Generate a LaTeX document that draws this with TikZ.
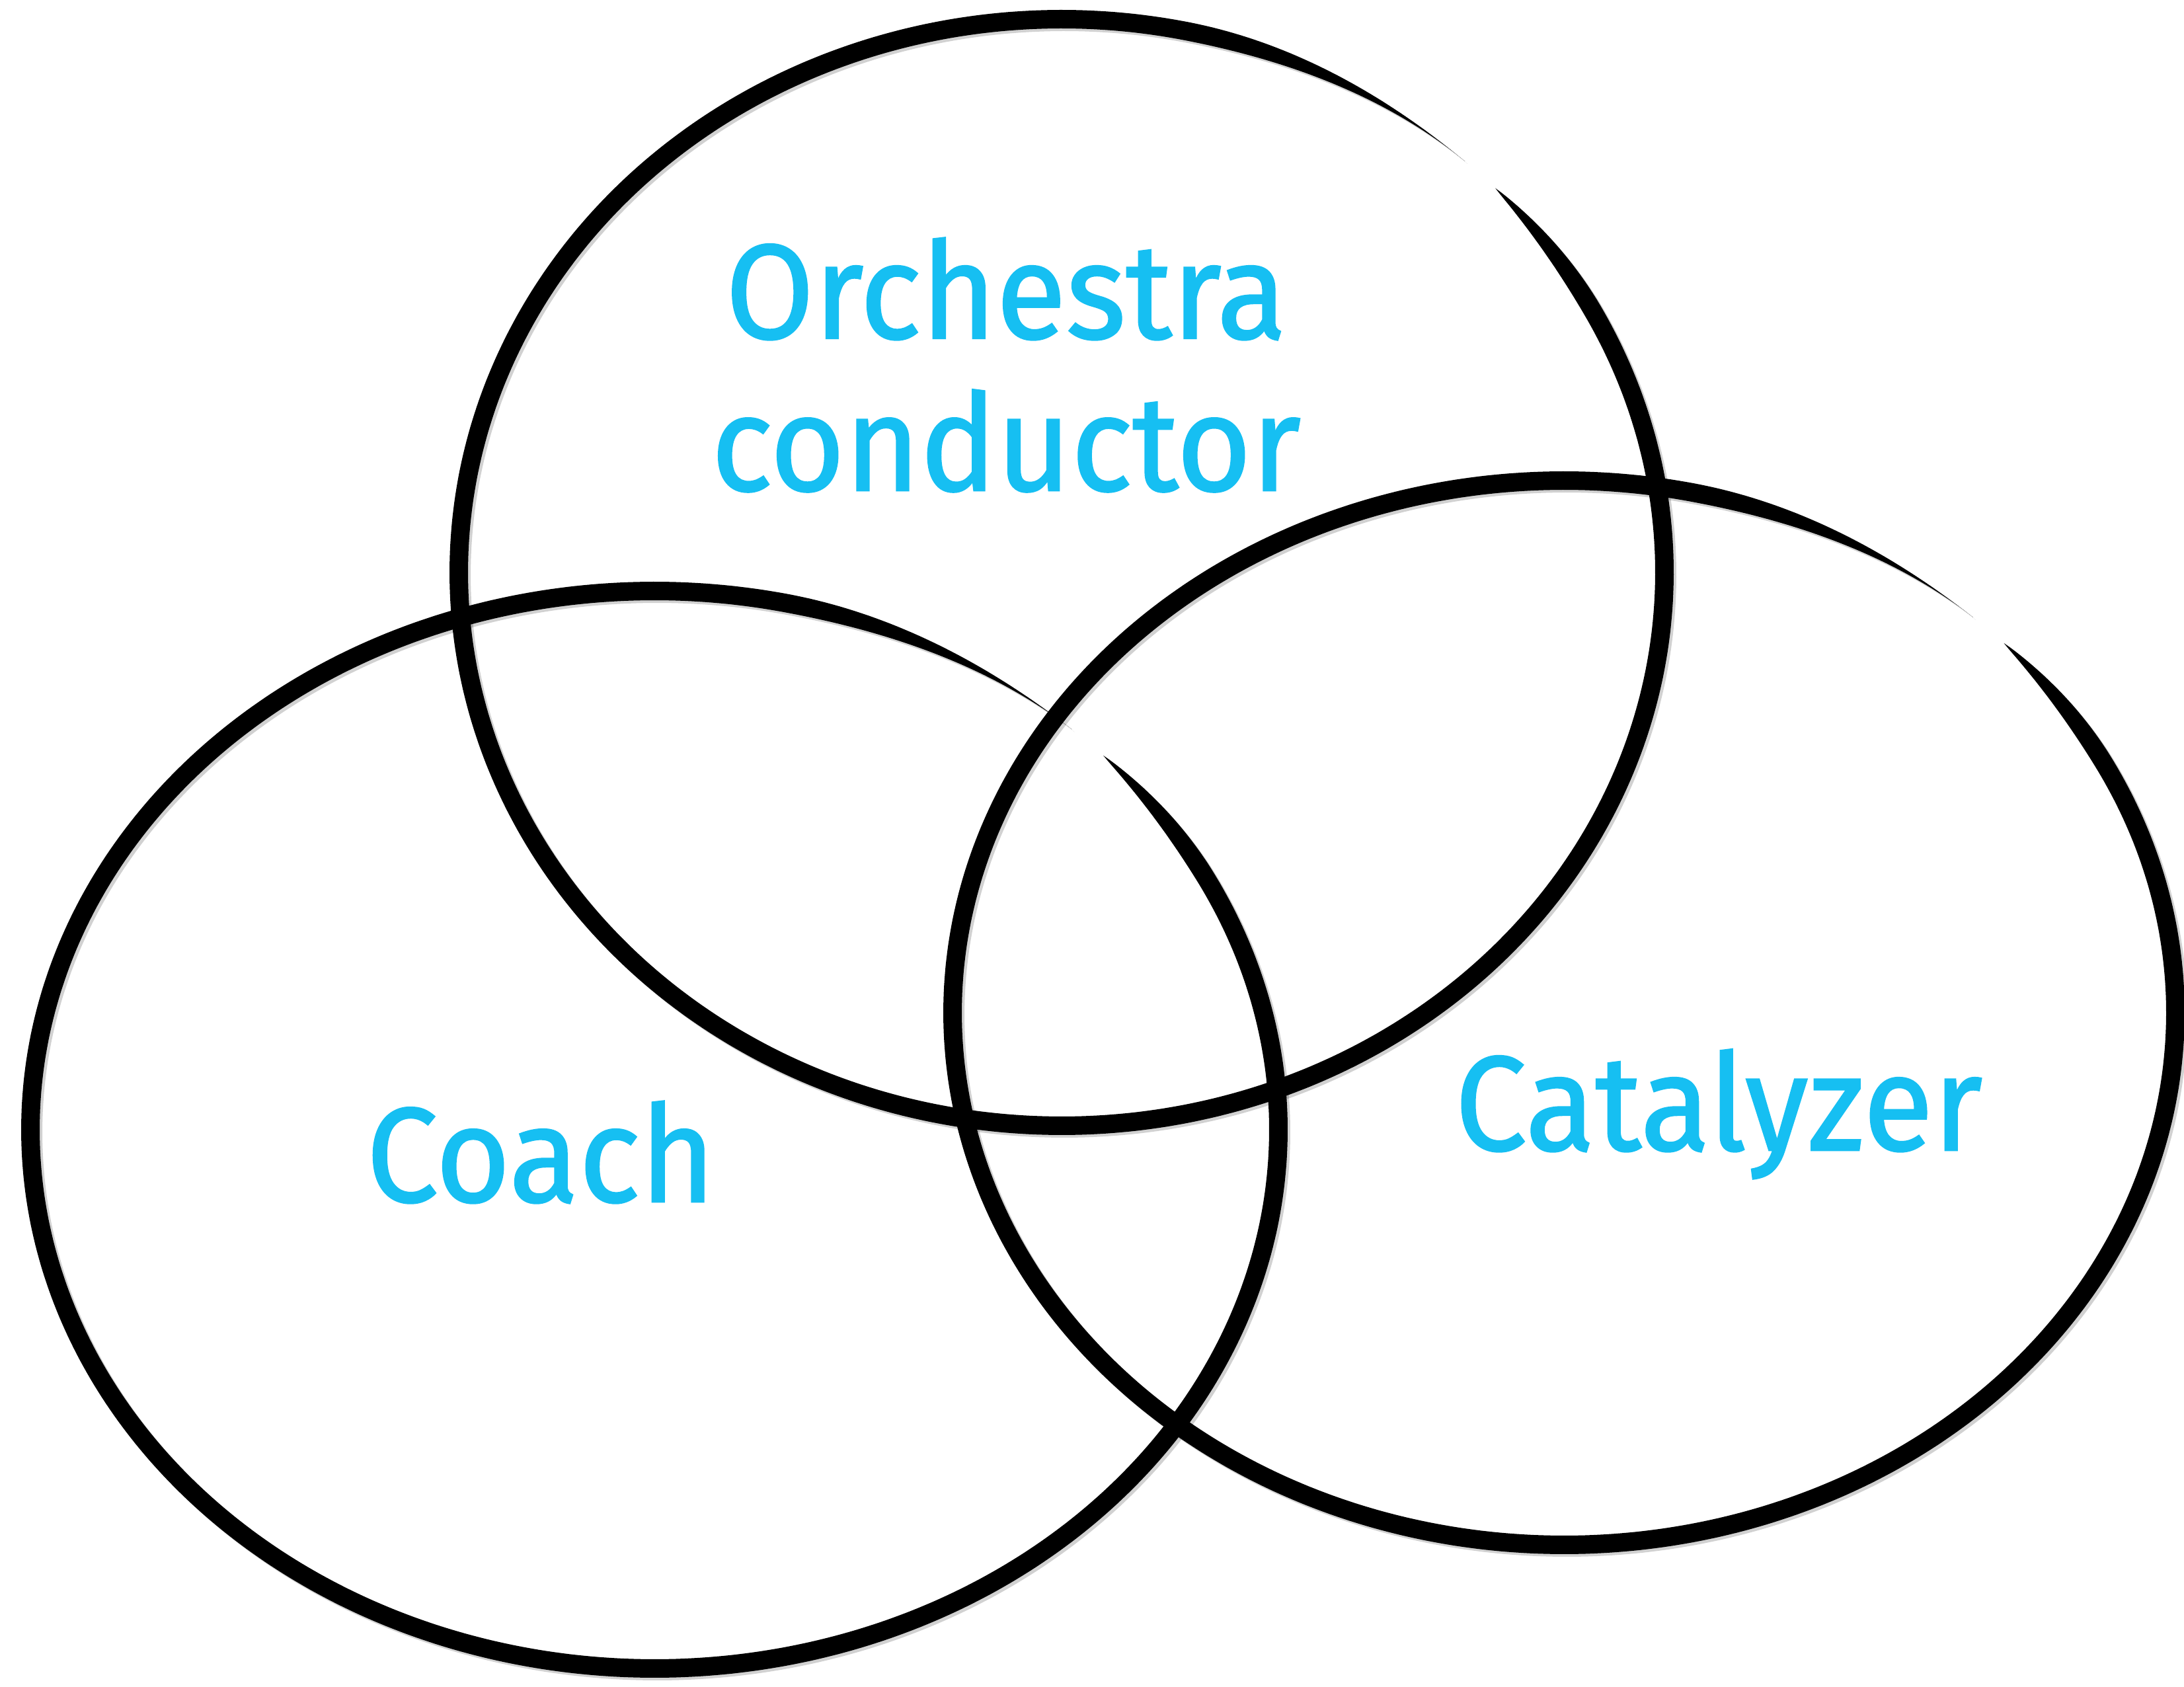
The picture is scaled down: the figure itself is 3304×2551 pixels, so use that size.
\documentclass[tikz,border=0pt]{standalone}
\usepackage{fontspec}
\newfontfamily\labelfont[FakeStretch=0.95, FakeBold=1.2]{Fira Sans}
\definecolor{labelblue}{RGB}{22,191,242}

% half width of the brush stroke: rounded start at 44 deg, long thin fade out at 48 deg
\pgfmathdeclarefunction{brushw}{1}{%
  \pgfmathsetmacro\brushin{max(0,min(1,(44-#1)/16))}%
  \pgfmathsetmacro\brushout{max(0,min(1,(#1+312)/30))}%
  \pgfmathparse{14*pow(sin(90*\brushin)+0.0001,0.85)*\brushout*\brushout*(3-2*\brushout)}}

% #1,#2 centre, #3,#4 radii
\newcommand{\brushring}[4]{%
  \fill[shade] plot[domain=-312:44] ({#1+4+(#3+brushw(\x))*cos(\x)}, {#2-4+(#4+brushw(\x))*sin(\x)})
    -- plot[domain=-312:44] ({#1+4+(#3-brushw(-268-\x))*cos(-268-\x)}, {#2-4+(#4-brushw(-268-\x))*sin(-268-\x)})
    -- cycle;
  \fill[brush] plot[domain=-312:44] ({#1+(#3+brushw(\x))*cos(\x)}, {#2+(#4+brushw(\x))*sin(\x)})
    -- plot[domain=-312:44] ({#1+(#3-brushw(-268-\x))*cos(-268-\x)}, {#2+(#4-brushw(-268-\x))*sin(-268-\x)})
    -- cycle;}

\tikzset{
  brush/.style={fill=black, samples=500},
  shade/.style={fill=black, opacity=0.18, samples=500},
  role/.style={text=labelblue, font=\labelfont\fontsize{58}{60}\selectfont,
    inner sep=0pt, text height=1.5cm, text depth=0pt},
}

\begin{document}
\begin{tikzpicture}[x=0.01cm, y=0.01cm, node distance=2.3cm]
  \useasboundingbox (0,0) rectangle (3304,2551);

  \brushring{1606}{1685}{912}{837}
  \brushring{990}{842}{944}{815}
  \brushring{2366}{1019}{925}{805}

  \node[role] (orchestra) at (1522,2114) {Orchestra};
  \node[role] (conductor) [below of=orchestra] {conductor};
  \node[role] (coach) at (818,808) {Coach};
  \node[role] (catalyzer) at (2600,886) {Catalyzer};
\end{tikzpicture}
\end{document}
